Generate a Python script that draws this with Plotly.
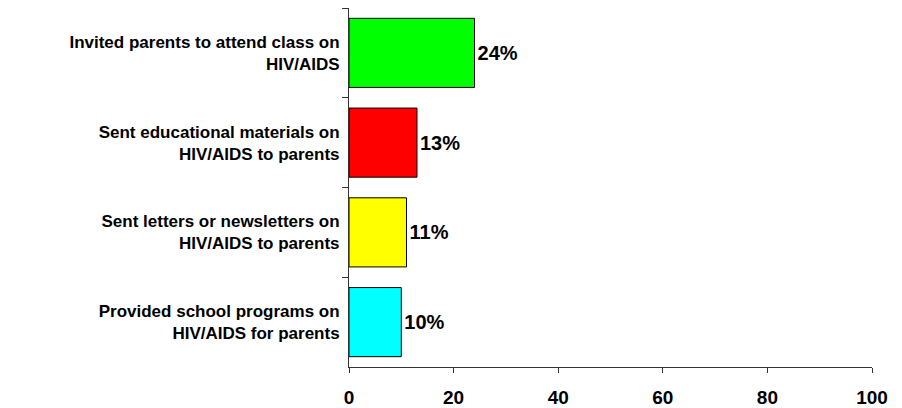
import plotly.graph_objects as go

categories = [
    "Invited parents to attend class on<br>HIV/AIDS",
    "Sent educational materials on<br>HIV/AIDS to parents",
    "Sent letters or newsletters on<br>HIV/AIDS to parents",
    "Provided school programs on<br>HIV/AIDS for parents",
]
values = [24, 13, 11, 10]
value_labels = ["24%", "13%", "11%", "10%"]
bar_colors = ["#00FF00", "#FF0000", "#FFFF00", "#00FFFF"]
x_ticks = [0, 20, 40, 60, 80, 100]

FONT = "Liberation Sans, Arial, sans-serif"

fig = go.Figure(
    go.Bar(
        x=values,
        y=categories,
        orientation="h",
        marker=dict(color=bar_colors, line=dict(color="black", width=1)),
        text=value_labels,
        textposition="outside",
        textfont=dict(family=FONT, size=20, color="black", weight="bold"),
        cliponaxis=False,
        width=0.77,
    )
)

fig.update_layout(
    width=902,
    height=408,
    margin=dict(l=341, r=38, t=0, b=49),
    plot_bgcolor="white",
    paper_bgcolor="white",
    showlegend=False,
    font=dict(family=FONT, color="black"),
    bargap=0.23,
)

fig.update_xaxes(
    range=[0, 100],
    tickvals=x_ticks,
    ticks="outside",
    ticklen=5,
    tickcolor="#333333",
    showline=True,
    linecolor="#333333",
    linewidth=1,
    showgrid=False,
    zeroline=False,
    tickfont=dict(family=FONT, size=19, color="black", weight="bold"),
    ticklabelstandoff=8,
)

fig.update_yaxes(
    autorange="reversed",
    tickson="boundaries",
    ticks="outside",
    ticklen=6,
    tickcolor="#333333",
    showline=True,
    linecolor="#333333",
    linewidth=1,
    showgrid=False,
    tickfont=dict(family=FONT, size=17, color="black", weight="bold"),
    ticklabelstandoff=5,
)

fig.write_html("out.html")
